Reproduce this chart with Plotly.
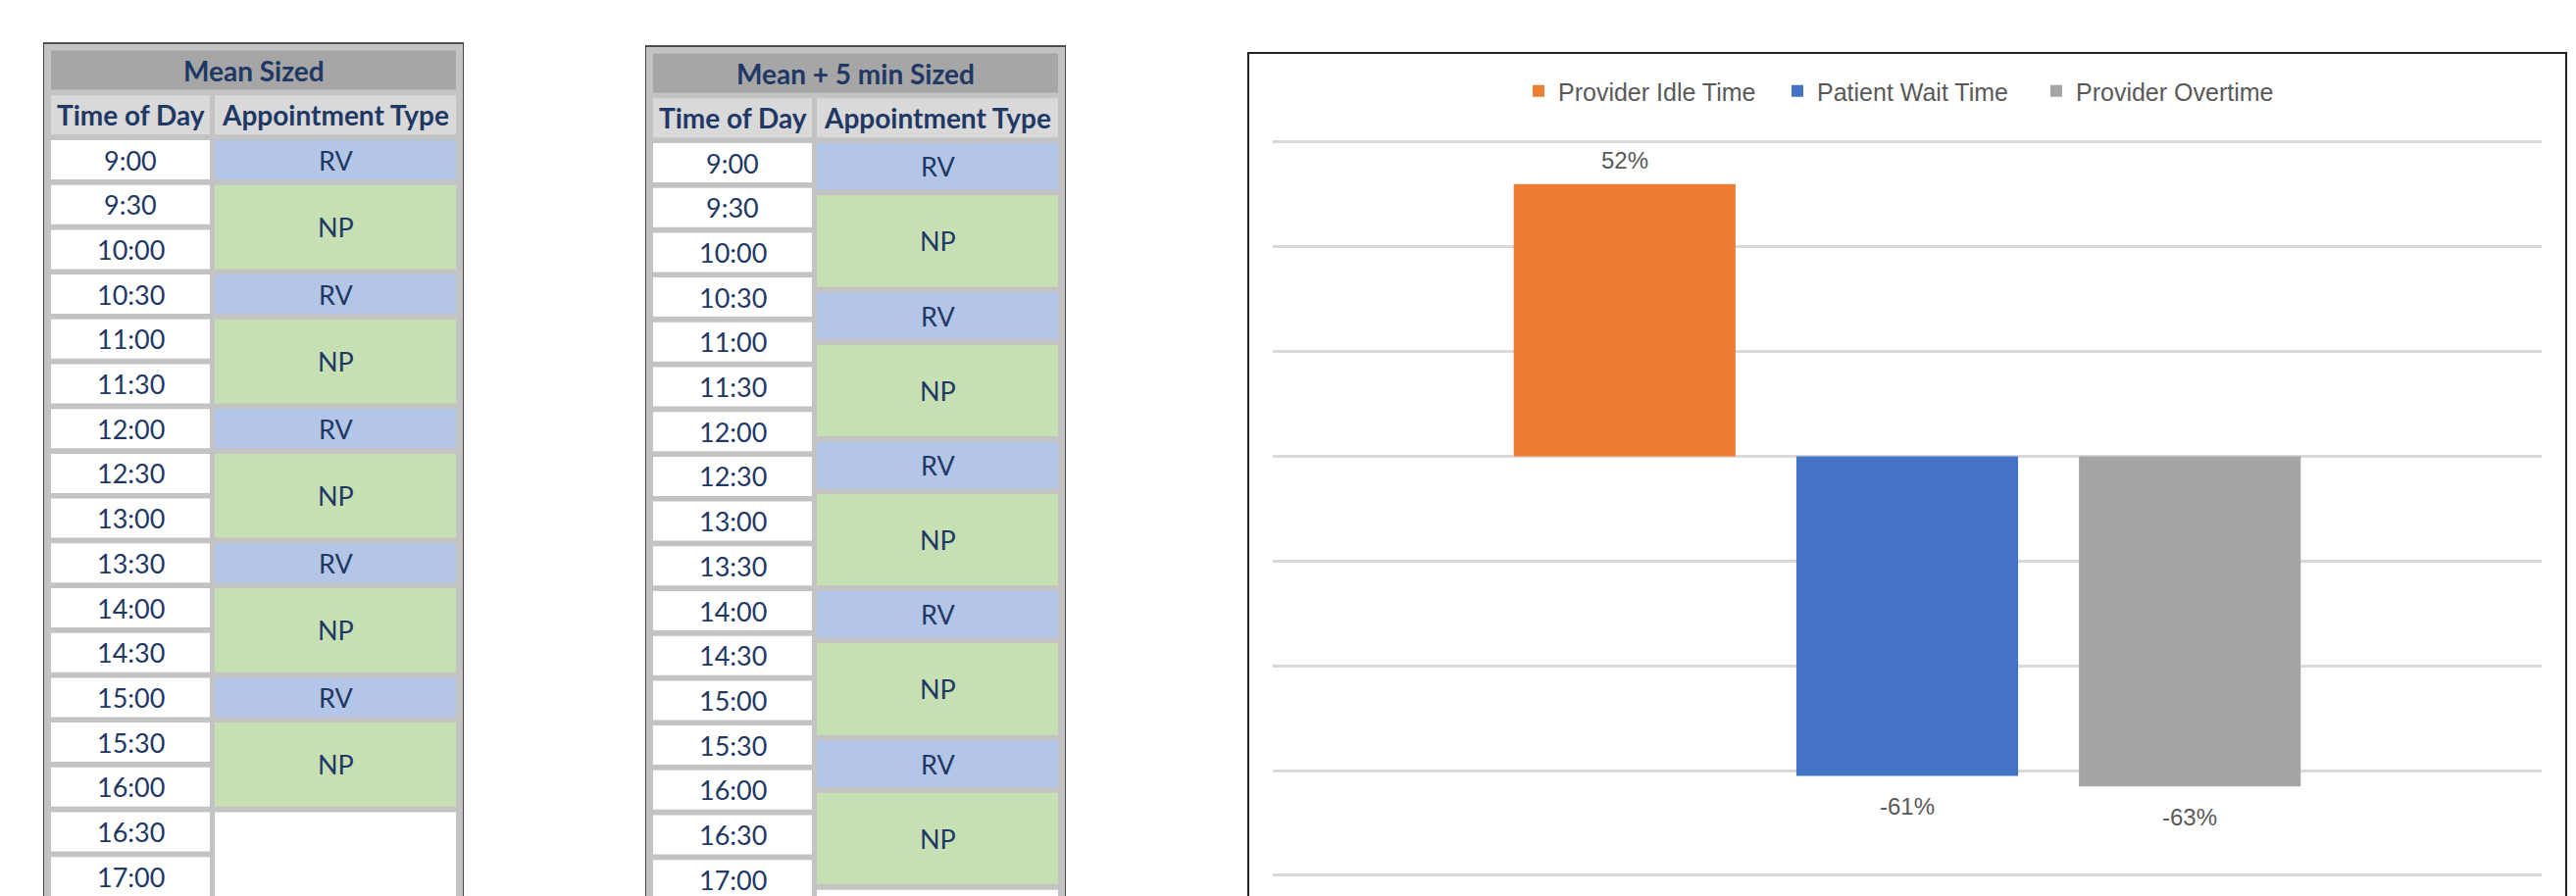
import plotly.graph_objects as go

# ---------------- data ----------------
time_labels = ["9:00", "9:30", "10:00", "10:30", "11:00", "11:30", "12:00", "12:30",
               "13:00", "13:30", "14:00", "14:30", "15:00", "15:30", "16:00", "16:30", "17:00"]
slot_minutes = 30
col_headers = ["Time of Day", "Appointment Type"]

mean_title = "Mean Sized"
mean_types = ["RV", "NP", "RV", "NP", "RV", "NP", "RV", "NP", "RV", "NP"]
mean_durations = [30, 60, 30, 60, 30, 60, 30, 60, 30, 60]

plus5_title = "Mean + 5 min Sized"
plus5_types = ["RV", "NP", "RV", "NP", "RV", "NP", "RV", "NP", "RV", "NP"]
plus5_durations = [35, 65, 35, 65, 35, 65, 35, 65, 35, 65]

metrics = ["Provider Idle Time", "Patient Wait Time", "Provider Overtime"]
changes = [0.52, -0.61, -0.63]

# ---------------- styles ----------------
W, H = 2627, 914
type_colors = {"RV": "#b4c6e7", "NP": "#c6e0b4"}
metric_colors = ["#ed7d31", "#4472c4", "#a5a5a5"]
navy = "#1f3864"
chart_text = "#595959"
tbl_font = "Lato, 'Open Sans', sans-serif"
chart_font = "'Liberation Sans Narrow', 'Arial Narrow', 'Liberation Sans', sans-serif"

px_per_min = 45.7 / 30.0
row0_px = 143
cell_h = 40 / px_per_min
gap = slot_minutes - cell_h

fig = go.Figure()
shapes = []
annotations = []


def add_table(n, left_px, shift_px, title, types, durations):
    xa, ya = f"x{n}", f"y{n}"
    top = row0_px + shift_px
    fig.update_layout(**{
        f"xaxis{n}": dict(domain=[left_px / W, (left_px + 429) / W], range=[0, 1],
                          visible=False, fixedrange=True),
        f"yaxis{n}": dict(domain=[0, 1], range=[(H - top) / px_per_min, -top / px_per_min],
                          visible=False, fixedrange=True),
    })
    fx0, fx1 = 8 / 429, 421 / 429
    c1 = 170 / 429
    c2 = 175 / 429
    bottom = (H - top) / px_per_min + 20
    frame_top = (44 - row0_px) / px_per_min
    # frame / gray background
    shapes.append(dict(type="rect", xref=xa, yref=ya, x0=0, x1=1, y0=frame_top, y1=bottom,
                       fillcolor="#c3c3c3", line=dict(color="#222222", width=1.5), layer="above"))
    # title bar
    shapes.append(dict(type="rect", xref=xa, yref=ya, x0=fx0, x1=fx1, y0=-2 * slot_minutes,
                       y1=-2 * slot_minutes + cell_h, fillcolor="#a6a6a6", line_width=0, layer="above"))
    annotations.append(dict(xref=xa, yref=ya, x=(fx0 + fx1) / 2, y=-2 * slot_minutes + cell_h / 2,
                            text=f"<b>{title}</b>", showarrow=False,
                            font=dict(family=tbl_font, size=28, color=navy)))
    # column headers
    for (a, b), txt in zip([(fx0, c1), (c2, fx1)], col_headers):
        shapes.append(dict(type="rect", xref=xa, yref=ya, x0=a, x1=b, y0=-slot_minutes,
                           y1=-slot_minutes + cell_h, fillcolor="#d9d9d9", line_width=0, layer="above"))
        annotations.append(dict(xref=xa, yref=ya, x=(a + b) / 2, y=-slot_minutes + cell_h / 2,
                                text=f"<b>{txt}</b>", showarrow=False,
                                font=dict(family=tbl_font, size=28, color=navy)))
    # time cells
    for r, t in enumerate(time_labels):
        y0 = r * slot_minutes
        shapes.append(dict(type="rect", xref=xa, yref=ya, x0=fx0, x1=c1, y0=y0, y1=y0 + cell_h,
                           fillcolor="white", line_width=0, layer="above"))
        annotations.append(dict(xref=xa, yref=ya, x=(fx0 + c1) / 2, y=y0 + cell_h / 2, text=t,
                                showarrow=False, font=dict(family=tbl_font, size=27, color=navy)))
    # appointment blocks
    start = 0
    for typ, d in zip(types, durations):
        shapes.append(dict(type="rect", xref=xa, yref=ya, x0=c2, x1=fx1, y0=start,
                           y1=start + d - gap, fillcolor=type_colors[typ], line_width=0, layer="above"))
        annotations.append(dict(xref=xa, yref=ya, x=(c2 + fx1) / 2, y=start + (d - gap) / 2, text=typ,
                                showarrow=False, font=dict(family=tbl_font, size=27, color=navy)))
        start += d
    # remaining open slot
    shapes.append(dict(type="rect", xref=xa, yref=ya, x0=c2, x1=fx1, y0=start, y1=bottom,
                       fillcolor="white", line_width=0, layer="above"))


add_table(2, 44, 0, mean_title, mean_types, mean_durations)
add_table(3, 658, 3, plus5_title, plus5_types, plus5_durations)

# ---------------- bar chart ----------------
bar_w = 226 / 288
for m, v, c in zip(metrics, changes, metric_colors):
    fig.add_trace(go.Bar(x=[m], y=[v], name=m, marker=dict(color=c, line_width=0),
                         width=bar_w, xaxis="x", yaxis="y", hoverinfo="skip"))
    annotations.append(dict(xref="x", yref="y", x=m, y=v, text=f"{v:.0%}", showarrow=False,
                            yshift=24 if v >= 0 else -31,
                            font=dict(family=chart_font, size=24, color=chart_text)))

# chart frame
shapes.append(dict(type="rect", xref="paper", yref="paper", x0=1273 / W, x1=2617 / W,
                   y0=-0.05, y1=1 - 54 / H, line=dict(color="#222222", width=2),
                   fillcolor="rgba(0,0,0,0)", layer="below"))

px_per_unit = (893 - 145) / 1.4
pad = 0.005
fig.update_layout(
    width=W, height=H,
    margin=dict(l=0, r=0, t=0, b=0),
    paper_bgcolor="white", plot_bgcolor="white",
    barmode="overlay",
    showlegend=True,
    xaxis=dict(domain=[1298 / W, 2592 / W], range=[-1.245, 3.245], showticklabels=False,
               showgrid=False, zeroline=False, showline=False, fixedrange=True),
    yaxis=dict(domain=[(H - (893 + pad * px_per_unit)) / H, (H - (145 - pad * px_per_unit)) / H],
               range=[-0.8 - pad, 0.6 + pad], dtick=0.2, tick0=0, showticklabels=False,
               showgrid=True, gridcolor="#d9d9d9", gridwidth=3, zeroline=False,
               showline=False, fixedrange=True),
    legend=dict(orientation="h", x=1945 / W, xanchor="center", y=1 - 93 / H, yanchor="middle",
                font=dict(family=chart_font, size=25, color=chart_text),
                entrywidth=219, entrywidthmode="pixels", bgcolor="rgba(0,0,0,0)",
                traceorder="normal"),
    shapes=shapes,
    annotations=annotations,
)

fig.write_html("out.html", config={"displayModeBar": False},
               post_script="document.body.style.margin='0';document.body.style.overflow='hidden';")
